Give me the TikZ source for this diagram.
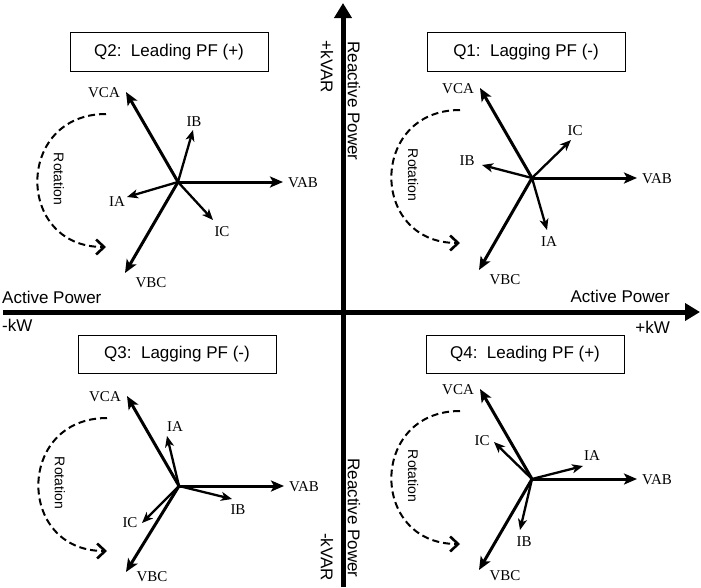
\documentclass[tikz,border=0pt]{standalone}
\usepackage{fontspec}
\setmainfont{Liberation Serif}
\setsansfont{Liberation Sans}
\usetikzlibrary{arrows.meta,positioning}

\begin{document}
\begin{tikzpicture}[x=1pt, y=-1pt, every node/.style={inner sep=0pt}]
  \tikzset{
    axis/.style={line width=5pt, -{Triangle[length=15pt,width=17pt]}},
    axislabel/.style={font=\fontsize{17}{20}\sffamily},
    quadbox/.style={draw, line width=1pt, minimum width=198pt, minimum height=39pt, font=\fontsize{17}{20}\sffamily},
    volt/.style={line width=3pt, -{Stealth[length=13pt,width=11pt,inset=3pt]}},
    amp/.style={line width=2.3pt, -{Stealth[length=11pt,width=9pt,inset=3pt]}},
    phlabel/.style={font=\fontsize{15}{17}\selectfont},
    rotarc/.style={dash pattern=on 7pt off 4pt, line width=2pt, -{Straight Barb[length=8pt,width=15pt,line width=2.6pt]}},
    rottext/.style={rotate=-90, font=\fontsize{14}{16}\sffamily}
  }
  \useasboundingbox (0,0) rectangle (701,587);

  % --- AXES ---
  \coordinate (xl) at (3,312);
  \coordinate (xr) at (700,312);
  \coordinate (yb) at (343,587);
  \coordinate (yt) at (343,3);
  \draw[axis] (xl) -- (xr);
  \draw[axis] (yb) -- (yt);

  \node[axislabel, anchor=west] (apl) at (2,297) {Active Power};
  \node[axislabel, anchor=west] (kwn) at (2,325) {-kW};
  \node[axislabel, anchor=east] (apr) at (670,296) {Active Power};
  \node[axislabel, anchor=east] (kwp) at (670,327) {+kW};
  \node[axislabel, rotate=-90] (kvarp) at (327,67) {+kVAR};
  \node[axislabel, rotate=-90] (rpt) at (354,101) {Reactive Power};
  \node[axislabel, rotate=-90] (rpb) at (354,518) {Reactive Power};
  \node[axislabel, rotate=-90] (kvarn) at (327,557) {-kVAR};

  % --- QUADRANT TITLES ---
  \node[quadbox] (q2) at (169,52) {Q2:\ \ Leading PF (+)};
  \node[quadbox] (q1) at (526,52) {Q1:\ \ Lagging PF (-)};
  \node[quadbox, minimum height=38pt] (q3) at (177,354) {Q3:\ \ Lagging PF (-)};
  \node[quadbox, minimum height=38pt] (q4) at (525,354) {Q4:\ \ Leading PF (+)};

  % --- VOLTAGES + ROTATION (same in every quadrant) ---
  \foreach \q/\cx/\cy/\vb/\lb in {2/178/182/91/101, 1/532/178/92/102, 3/179/486/86/91, 4/532/479/91/97} {
    \begin{scope}[shift={(\cx,\cy)}]
      \coordinate (c\q) at (0,0);
      \coordinate (vab\q) at (105,0);
      \coordinate (vca\q) at (-52,-90);
      \coordinate (vbc\q) at (-53,\vb);
      \draw[volt] (c\q) -- (vab\q);
      \draw[volt] (c\q) -- (vca\q);
      \draw[volt] (c\q) -- (vbc\q);
      \node[phlabel] (lvab\q) at (125,1) {VAB};
      \node[phlabel] (lvca\q) at (-74,-89) {VCA};
      \node[phlabel] (lvbc\q) at (-27,\lb) {VBC};
      \coordinate (rs\q) at (-72,-68);
      \coordinate (re\q) at (-72,65);
      \draw[rotarc] (rs\q) .. controls (-163,-68) and (-163,65) .. (re\q);
      \node[rottext] (rot\q) at (-119,-3) {Rotation};
    \end{scope}
  }

  % --- Q2 currents ---
  \begin{scope}[shift={(178,182)}]
    \coordinate (ia2) at (-51,15); \coordinate (ib2) at (15,-52); \coordinate (ic2) at (35,38);
    \foreach \i in {ia2,ib2,ic2} \draw[amp] (c2) -- (\i);
    \node[phlabel] (lia2) at (-61,20) {IA};
    \node[phlabel] (lib2) at (16,-60) {IB};
    \node[phlabel] (lic2) at (44,50) {IC};
  \end{scope}

  % --- Q1 currents ---
  \begin{scope}[shift={(532,178)}]
    \coordinate (ia1) at (15,52); \coordinate (ib1) at (-50,-13); \coordinate (ic1) at (39,-38);
    \foreach \i in {ia1,ib1,ic1} \draw[amp] (c1) -- (\i);
    \node[phlabel] (lia1) at (17,64) {IA};
    \node[phlabel] (lib1) at (-65,-17) {IB};
    \node[phlabel] (lic1) at (43,-47) {IC};
  \end{scope}

  % --- Q3 currents ---
  \begin{scope}[shift={(179,486)}]
    \coordinate (ia3) at (-12,-50); \coordinate (ib3) at (53,13); \coordinate (ic3) at (-37,37);
    \foreach \i in {ia3,ib3,ic3} \draw[amp] (c3) -- (\i);
    \node[phlabel] (lia3) at (-4,-59) {IA};
    \node[phlabel] (lib3) at (59,24) {IB};
    \node[phlabel] (lic3) at (-49,37) {IC};
  \end{scope}

  % --- Q4 currents ---
  \begin{scope}[shift={(532,479)}]
    \coordinate (ia4) at (51,-13); \coordinate (ib4) at (-12,51); \coordinate (ic4) at (-38,-37);
    \foreach \i in {ia4,ib4,ic4} \draw[amp] (c4) -- (\i);
    \node[phlabel] (lia4) at (60,-23) {IA};
    \node[phlabel] (lib4) at (-8,63) {IB};
    \node[phlabel] (lic4) at (-50,-38) {IC};
  \end{scope}
\end{tikzpicture}
\end{document}
